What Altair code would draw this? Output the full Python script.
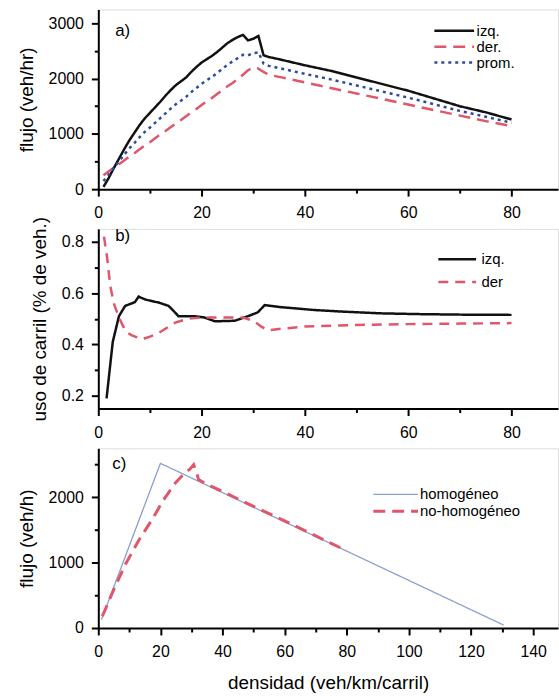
import altair as alt
import pandas as pd

FONT = "Liberation Sans"

# ---------------- panel a) flujo vs densidad por carril ----------------
dens_a = [1, 2, 3, 4, 5, 6, 7, 8, 9, 10, 11, 12, 13, 14, 15, 16, 17, 18, 19, 20,
          21, 22, 23, 24, 25, 26, 27, 28, 29, 30, 31, 32, 33, 34, 35, 40, 45, 50,
          55, 60, 65, 70, 75, 80]
izq_a = [40, 200, 380, 550, 720, 880, 1020, 1160, 1280, 1380, 1480, 1580, 1690,
         1790, 1880, 1950, 2020, 2120, 2210, 2290, 2350, 2410, 2480, 2560, 2640,
         2700, 2750, 2790, 2690, 2720, 2770, 2420, 2390, 2370, 2350, 2240, 2140,
         2020, 1900, 1780, 1640, 1500, 1390, 1260]
der_a = [250, 320, 390, 450, 520, 590, 650, 720, 790, 850, 920, 990, 1050, 1120,
         1190, 1250, 1320, 1390, 1450, 1520, 1590, 1650, 1720, 1790, 1860, 1920,
         1990, 2070, 2150, 2200, 2180, 2120, 2070, 2050, 2030, 1930, 1830, 1730,
         1630, 1530, 1430, 1330, 1230, 1140]
prom_a = [145, 260, 385, 500, 620, 735, 835, 940, 1035, 1115, 1200, 1285, 1370,
          1455, 1535, 1600, 1670, 1755, 1830, 1905, 1970, 2030, 2100, 2175, 2250,
          2310, 2370, 2430, 2420, 2460, 2475, 2270, 2230, 2210, 2190, 2085, 1985,
          1875, 1765, 1655, 1535, 1415, 1310, 1200]
series_a = ["izq.", "der.", "prom."]

# ---------------- panel b) uso de carril ----------------
dens_b_izq = [1.6, 2.8, 4, 5.2, 6.5, 7.1, 7.8, 9.1, 10.5, 11.7, 13.6, 14.6, 15.5,
              18.6, 20.5, 22.6, 26.4, 29, 30.9, 32.2, 35.4, 41.8, 47, 54.6, 62,
              70, 80]
uso_b_izq = [0.19, 0.41, 0.51, 0.55, 0.56, 0.565, 0.586, 0.575, 0.568, 0.563,
             0.55, 0.53, 0.51, 0.51, 0.505, 0.49, 0.492, 0.51, 0.525, 0.553,
             0.545, 0.534, 0.528, 0.521, 0.518, 0.516, 0.515]
dens_b_der = [1.1, 1.7, 2.3, 3.0, 4, 5.3, 6.5, 8.5, 10, 11.7, 13.3, 14.9, 17.4,
              20, 24, 28, 29.5, 30.5, 31.5, 32.8, 35, 40, 45, 50, 60, 70, 80]
uso_b_der = [0.82, 0.74, 0.63, 0.56, 0.505, 0.45, 0.435, 0.42, 0.43, 0.445,
             0.465, 0.485, 0.50, 0.505, 0.505, 0.505, 0.495, 0.485, 0.47, 0.455,
             0.46, 0.47, 0.473, 0.476, 0.479, 0.481, 0.483]
series_b = ["izq.", "der"]

# ---------------- panel c) homogéneo vs no-homogéneo ----------------
dens_c_hom = [1, 20, 130.5]
flujo_c_hom = [125, 2520, 45]
dens_c_nh = [1.3, 5, 8.8, 13, 17.3, 21, 24.8, 27, 28.5, 29.5, 30.7, 31.5, 32.3,
             35, 40, 50, 60, 70, 80]
flujo_c_nh = [180, 590, 980, 1340, 1660, 1960, 2220, 2330, 2400, 2430, 2500,
              2400, 2270, 2200, 2090, 1860, 1640, 1410, 1180]
series_c = ["homogéneo", "no-homogéneo"]

# tick values
ticks_x_ab = [0, 10, 20, 30, 40, 50, 60, 70, 80]
ticks_y_a = [0, 500, 1000, 1500, 2000, 2500, 3000]
ticks_y_b = [0.2, 0.3, 0.4, 0.5, 0.6, 0.7, 0.8]
ticks_x_c = [0, 10, 20, 30, 40, 50, 60, 70, 80, 90, 100, 110, 120, 130, 140]
ticks_y_c = [0, 500, 1000, 1500, 2000, 2500]

BLACK = "#111111"
RED = "#e0566b"
BLUE = "#2c4a9e"
LBLUE = "#8a9fd0"

W = 463
H = 181


def axis(values, minor_test, title=None, title_pad=None, fmt="d", label_pad=9):
    kw = dict(
        values=values,
        grid=False,
        format=fmt,
        domainColor="black",
        domainWidth=2,
        tickColor="black",
        tickWidth=2,
        tickSize={"condition": {"test": minor_test, "value": 4}, "value": 7},
        labelExpr="(" + minor_test + ") ? '' : datum.label",
        labelFont=FONT,
        labelFontSize=16,
        labelColor="black",
        labelPadding=label_pad,
        labelFlush=False,
        labelOverlap=False,
        titleFont=FONT,
        titleFontSize=19,
        titleFontWeight="normal",
        titleColor="black",
    )
    if title is None:
        kw["title"] = None
    else:
        kw["title"] = title
        if title_pad is not None:
            kw["titlePadding"] = title_pad
    return alt.Axis(**kw)


def legend(lx, ly, half_len, row_pad, offset):
    # short nominal symbol (size 100 -> radius 5) drawn as a long horizontal path
    return alt.Legend(
        title=None,
        orient="none",
        legendX=lx,
        legendY=ly,
        symbolType="M-%s,0H%s" % (half_len, half_len),
        symbolSize=100,
        labelFont=FONT,
        labelFontSize=15,
        labelColor="black",
        rowPadding=row_pad,
        padding=0,
        labelOffset=offset,
    )


def label(txt, x, y):
    return alt.Chart(pd.DataFrame({"t": [txt]})).mark_text(
        align="left", baseline="middle", font=FONT, fontSize=17, color="black"
    ).encode(text="t:N", x=alt.value(x), y=alt.value(y))


# ---- panel a chart
df_a = pd.concat([
    pd.DataFrame({"dens": dens_a, "val": izq_a, "serie": "izq."}),
    pd.DataFrame({"dens": dens_a, "val": der_a, "serie": "der."}),
    pd.DataFrame({"dens": dens_a, "val": prom_a, "serie": "prom."}),
])
leg_a = legend(351, 14, 4, 0, 15)
lines_a = alt.Chart(df_a).mark_line(strokeCap="butt").encode(
    x=alt.X("dens:Q", scale=alt.Scale(domain=[0, 89], nice=False, zero=False),
            axis=axis(ticks_x_ab, "datum.value % 20 != 0")),
    y=alt.Y("val:Q", scale=alt.Scale(domain=[0, 3250], nice=False),
            axis=axis(ticks_y_a, "datum.value % 1000 != 0", "flujo (veh/hr)", 12, label_pad=8)),
    color=alt.Color("serie:N", scale=alt.Scale(domain=series_a, range=[BLACK, RED, BLUE]), legend=leg_a),
    strokeDash=alt.StrokeDash("serie:N", scale=alt.Scale(domain=series_a, range=[[1, 0], [12, 7], [3, 4]]), legend=leg_a),
    strokeWidth=alt.StrokeWidth("serie:N", scale=alt.Scale(domain=series_a, range=[2.5, 2.5, 3.2]), legend=leg_a),
    order=alt.Order("serie:N", sort="descending"),
)
chart_a = alt.layer(lines_a, label("a)", 17, 22)).properties(width=W, height=H)

# ---- panel b chart
df_b = pd.concat([
    pd.DataFrame({"dens": dens_b_izq, "val": uso_b_izq, "serie": "izq."}),
    pd.DataFrame({"dens": dens_b_der, "val": uso_b_der, "serie": "der"}),
])
leg_b = legend(354, 23, 3.8, 7, 17)
lines_b = alt.Chart(df_b).mark_line(strokeCap="butt").encode(
    x=alt.X("dens:Q", scale=alt.Scale(domain=[0, 89], nice=False, zero=False),
            axis=axis(ticks_x_ab, "datum.value % 20 != 0")),
    y=alt.Y("val:Q", scale=alt.Scale(domain=[0.15, 0.85], nice=False, zero=False),
            axis=axis(ticks_y_b, "round(datum.value * 10) % 2 == 1", "uso de carril (% de veh.)", 12, ".1f", label_pad=8)),
    color=alt.Color("serie:N", scale=alt.Scale(domain=series_b, range=[BLACK, RED]), legend=leg_b),
    strokeDash=alt.StrokeDash("serie:N", scale=alt.Scale(domain=series_b, range=[[1, 0], [10, 7]]), legend=leg_b),
    strokeWidth=alt.StrokeWidth("serie:N", scale=alt.Scale(domain=series_b, range=[2.5, 2.5]), legend=leg_b),
)
chart_b = alt.layer(lines_b, label("b)", 17, 7)).properties(width=W, height=H)

# ---- panel c chart
df_c = pd.concat([
    pd.DataFrame({"dens": dens_c_hom, "val": flujo_c_hom, "serie": "homogéneo"}),
    pd.DataFrame({"dens": dens_c_nh, "val": flujo_c_nh, "serie": "no-homogéneo"}),
])
leg_c = legend(292, 39, 4.5, 1, 17)
lines_c = alt.Chart(df_c).mark_line(strokeCap="butt").encode(
    x=alt.X("dens:Q", scale=alt.Scale(domain=[0, 148], nice=False, zero=False),
            axis=axis(ticks_x_c, "datum.value % 20 != 0", "densidad (veh/km/carril)", 14)),
    y=alt.Y("val:Q", scale=alt.Scale(domain=[0, 2750], nice=False),
            axis=axis(ticks_y_c, "datum.value % 1000 != 0", "flujo (veh/h)", 12, label_pad=8)),
    color=alt.Color("serie:N", scale=alt.Scale(domain=series_c, range=[LBLUE, RED]), legend=leg_c),
    strokeDash=alt.StrokeDash("serie:N", scale=alt.Scale(domain=series_c, range=[[1, 0], [12, 7]]), legend=leg_c),
    strokeWidth=alt.StrokeWidth("serie:N", scale=alt.Scale(domain=series_c, range=[1.3, 3]), legend=leg_c),
)
chart_c = alt.layer(lines_c, label("c)", 14, 16)).properties(width=W, height=H)

chart = alt.vconcat(chart_a, chart_b, chart_c, spacing=40, bounds="flush").resolve_scale(
    x="independent", y="independent", color="independent",
    strokeDash="independent", strokeWidth="independent",
).resolve_legend(
    color="independent", strokeDash="independent", strokeWidth="independent"
).properties(
    padding={"left": 16, "top": 6, "right": 0, "bottom": 6}
).configure_view(stroke=None).configure(background="white")

chart.save("out.html", embed_options={"renderer": "svg", "actions": False})
